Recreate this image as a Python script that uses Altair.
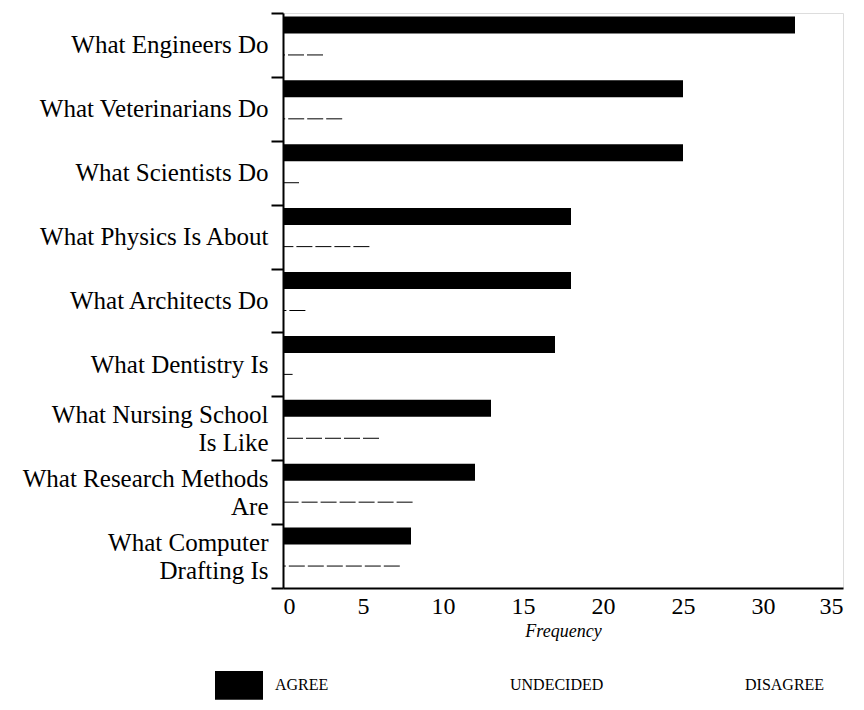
import altair as alt
import pandas as pd

# ---- data ----
topics = [
    "What Engineers Do",
    "What Veterinarians Do",
    "What Scientists Do",
    "What Physics Is About",
    "What Architects Do",
    "What Dentistry Is",
    "What Nursing School|Is Like",
    "What Research Methods|Are",
    "What Computer|Drafting Is",
]
agree = [32, 25, 25, 18, 18, 17, 13, 12, 8]
# faint thin (broken) bars printed below each Agree bar
other = [2.5, 3.7, 1.0, 5.4, 1.4, 0.6, 6.0, 8.1, 7.3]
responses = ["Agree", "Undecided", "Disagree"]
response_colors = ["black", "white", "white"]
x_ticks = [0, 5, 10, 15, 20, 25, 30, 35]

df = pd.DataFrame({"topic": topics, "agree": agree, "other": other, "response": "Agree"})

FONT = "Liberation Serif"

y_enc = alt.Y(
    "topic:N",
    sort=topics,
    title=None,
    scale=alt.Scale(paddingInner=0, paddingOuter=0),
    axis=alt.Axis(
        labelExpr="datum.value ? split(datum.value, '|') : ''",
        labelOffset={"condition": {"test": "datum.value && indexof(datum.value, '|') >= 0", "value": -14}, "value": 0},
        tickBand="extent",
        tickSize=12,
        tickWidth=2,
        tickColor="black",
        domainColor="black",
        domainWidth=2,
        labelFontSize=25,
        labelLineHeight=28,
        labelPadding=3,
        labelColor="black",
        labelFont=FONT,
        labelLimit=400,
    ),
)

x_enc = alt.X(
    "agree:Q",
    scale=alt.Scale(domain=[0, 35], nice=False),
    axis=alt.Axis(
        values=x_ticks,
        title="Frequency",
        titleFont=FONT,
        titleFontStyle="italic",
        titleFontWeight="normal",
        titleFontSize=18,
        titleColor="black",
        titlePadding=4,
        labelFont=FONT,
        labelFontSize=24,
        labelColor="black",
        labelPadding=6,
        ticks=False,
        grid=False,
        domainColor="black",
        domainWidth=2,
    ),
)

bars = alt.Chart(df).mark_bar(size=17, yOffset=-20).encode(
    y=y_enc,
    x=x_enc,
    color=alt.Color(
        "response:N",
        scale=alt.Scale(domain=responses, range=response_colors),
        legend=alt.Legend(
            orient="none",
            legendX=-68,
            legendY=648,
            direction="horizontal",
            title=None,
            symbolType="M-1,-0.6H1V0.6H-1Z",
            symbolSize=2304,
            symbolStrokeWidth=0,
            labelExpr="upper(datum.label)",
            labelFont=FONT,
            labelFontSize=16,
            labelColor="black",
            labelOffset=12,
            columnPadding=81,
            gridAlign="all",
        ),
    ),
)

thin = alt.Chart(df).mark_rule(color="black", strokeWidth=1, strokeDash=[16, 3], yOffset=10).encode(
    y=alt.Y("topic:N", sort=topics),
    x=alt.X("other:Q"),
    x2=alt.datum(0),
)

chart = (
    alt.layer(bars, thin)
    .properties(
        width=560,
        height=575,
        autosize=alt.AutoSizeParams(type="none"),
        padding={"left": 275, "top": 5, "right": 13, "bottom": 120},
    )
    .configure_view(stroke="black", strokeWidth=2)
    .configure(font=FONT)
)

chart.save("out.html", embed_options={"renderer": "svg", "actions": False})
